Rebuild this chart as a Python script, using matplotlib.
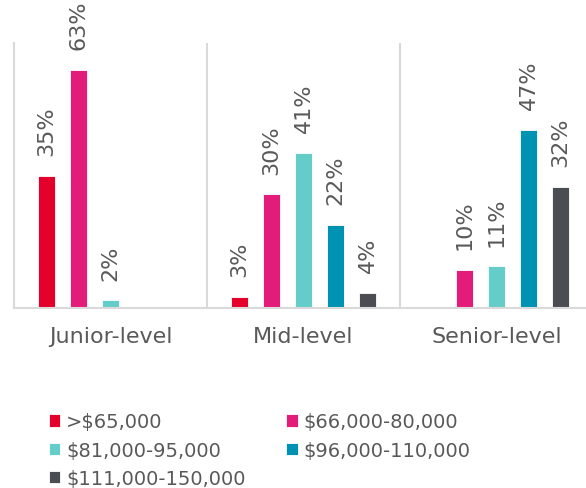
import matplotlib.pyplot as plt
import numpy as np

# data
categories = ['Junior-level', 'Mid-level', 'Senior-level']
series = ['>$65,000', '$66,000-80,000', '$81,000-95,000', '$96,000-110,000', '$111,000-150,000']
values = [
    [35, 3, None],
    [63, 30, 10],
    [2, 41, 11],
    [None, 22, 47],
    [None, 4, 32],
]
colors = ['#E4002B', '#E31C79', '#64CCC9', '#0092B3', '#4A4D52']

plt.rcParams['font.family'] = ['DejaVu Sans']
text_col = '#595959'
grid_col = '#D9D9D9'

fig = plt.figure(figsize=(5.86, 4.89), dpi=100)
ax = fig.add_axes([14 / 586, 1 - 309 / 489, 1 - 14 / 586, (309 - 44) / 489])

x = np.arange(len(categories))
step = 32 / 193
width = 17 / 193
handles = []
for i, (name, vals, c) in enumerate(zip(series, values, colors)):
    xs = x + (i - 2) * step
    hs = [v if v is not None else 0 for v in vals]
    bars = ax.bar(xs, hs, width, color=c, label=name, edgecolor='white', linewidth=0.6)
    handles.append(bars)
    for b, v in zip(bars, vals):
        if v is None:
            continue
        ax.annotate(f'{v}%', (b.get_x() + b.get_width() / 2, v),
                    xytext=(0, 15), textcoords='offset points',
                    rotation=90, ha='center', va='bottom',
                    fontsize=16, color=text_col)

ax.set_ylim(0, 70)
ax.set_xlim(-0.5, 2.5 - 7 / 193)
for sep in [0.5, 1.5]:
    ax.axvline(sep, color=grid_col, lw=1.5)
ax.set_yticks([])
ax.set_xticks(x)
ax.set_xticklabels(categories, fontsize=16, color=text_col)
ax.tick_params(axis='x', length=0, pad=13)
for s in ['top', 'right']:
    ax.spines[s].set_visible(False)
ax.spines['left'].set_color(grid_col)
ax.spines['left'].set_linewidth(1.5)
ax.spines['bottom'].set_color(grid_col)
ax.spines['bottom'].set_linewidth(1.5)

# legend reads row by row, matplotlib fills column by column
order = [0, 2, 4, 1, 3]
leg = fig.legend([handles[k] for k in order], [series[k] for k in order],
                 loc='upper left', bbox_to_anchor=(31 / 586, 1 - 396 / 489), ncol=2,
                 frameon=False, fontsize=14, handlelength=0.6, handleheight=0.6,
                 handletextpad=0.3, columnspacing=2.1, labelspacing=0.48)
for t in leg.get_texts():
    t.set_color(text_col)

fig.savefig('out.png', dpi=100)
